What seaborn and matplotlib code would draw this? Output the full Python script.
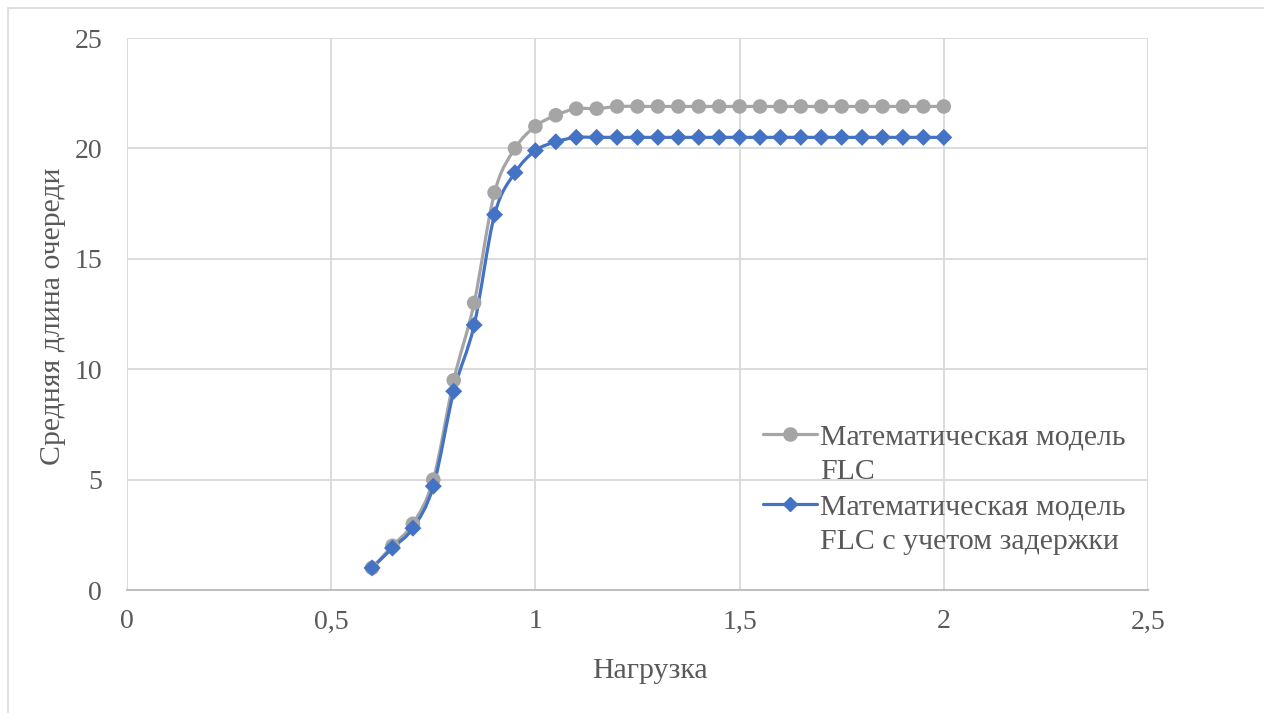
import numpy as np
import matplotlib
matplotlib.use("Agg")
import matplotlib.pyplot as plt
from matplotlib.path import Path
from matplotlib.patches import PathPatch, Rectangle
from matplotlib.lines import Line2D
from matplotlib.ticker import FuncFormatter
import seaborn as sns

# load values
load = [0.6, 0.65, 0.7, 0.75, 0.8, 0.85, 0.9, 0.95, 1.0, 1.05, 1.1, 1.15, 1.2, 1.25,
        1.3, 1.35, 1.4, 1.45, 1.5, 1.55, 1.6, 1.65, 1.7, 1.75, 1.8, 1.85, 1.9, 1.95, 2.0]
flc = [1.0, 2.0, 3.0, 5.0, 9.5, 13.0, 18.0, 20.0, 21.0, 21.5, 21.8, 21.8, 21.9, 21.9,
       21.9, 21.9, 21.9, 21.9, 21.9, 21.9, 21.9, 21.9, 21.9, 21.9, 21.9, 21.9, 21.9, 21.9, 21.9]
flc_delay = [1.0, 1.9, 2.8, 4.7, 9.0, 12.0, 17.0, 18.9, 19.9, 20.3, 20.5, 20.5, 20.5, 20.5,
             20.5, 20.5, 20.5, 20.5, 20.5, 20.5, 20.5, 20.5, 20.5, 20.5, 20.5, 20.5, 20.5, 20.5, 20.5]

legend_rows = ["Математическая модель", "FLC",
               "Математическая модель", "FLC с учетом задержки"]

GRAY = "#A5A5A5"
BLUE = "#4472C4"
TEXT = "#595959"
GRID = "#D9D9D9"

sns.set_style("white")
plt.rcParams["font.family"] = ["Liberation Serif", "DejaVu Serif"]


def smooth_path(xs, ys):
    # excel-like smoothed line: cubic bezier segments through the data points
    pts = np.column_stack([xs, ys])
    n = len(pts)
    verts = [pts[0]]
    codes = [Path.MOVETO]
    for i in range(n - 1):
        p0 = pts[i - 1] if i > 0 else pts[i]
        p1 = pts[i]
        p2 = pts[i + 1]
        p3 = pts[i + 2] if i + 2 < n else pts[i + 1]
        c1 = p1 + (p2 - p0) / 6.0
        c2 = p2 - (p3 - p1) / 6.0
        verts += [c1, c2, p2]
        codes += [Path.CURVE4] * 3
    return Path(verts, codes)


fig = plt.figure(figsize=(12.64, 7.13), dpi=100)
ax = fig.add_axes([0.1005, 0.1725, 0.8077, 0.7742])

for ys, col in [(flc, GRAY), (flc_delay, BLUE)]:
    ax.add_patch(PathPatch(smooth_path(load, ys), facecolor="none", edgecolor=col,
                           lw=2.3, capstyle="round", zorder=3))

sns.scatterplot(x=load, y=flc, ax=ax, color=GRAY, marker="o", s=110,
                edgecolor="none", zorder=4)
sns.scatterplot(x=load, y=flc_delay, ax=ax, color=BLUE, marker="D", s=75,
                edgecolor="none", zorder=5)

ax.set_xlim(0, 2.5)
ax.set_ylim(0, 25)
ax.set_xticks(np.arange(0, 2.51, 0.5))
ax.set_yticks(np.arange(0, 26, 5))
ax.xaxis.set_major_formatter(FuncFormatter(lambda v, p: f"{v:g}".replace(".", ",")))
ax.grid(True, color=GRID, lw=1.3)
ax.set_axisbelow(True)
for s in ["top", "right", "left"]:
    ax.spines[s].set_visible(False)
ax.spines["bottom"].set_color("#BFBFBF")
ax.spines["bottom"].set_linewidth(1.5)
ax.tick_params(axis="both", length=0, labelsize=20, colors=TEXT)
ax.tick_params(axis="x", pad=14)
ax.tick_params(axis="y", pad=18)

ax.set_xlabel("Нагрузка", fontsize=21.5, color=TEXT)
ax.set_ylabel("Средняя длина очереди", fontsize=21.5, color=TEXT)
ax.xaxis.set_label_coords(0.512, -0.147)
ax.xaxis.label.set_va("center")
ax.yaxis.set_label_coords(-0.0725, 0.496)
ax.yaxis.label.set_va("center")

blank = Line2D([], [], color="none", lw=0)
handles = [
    Line2D([], [], color=GRAY, lw=2.3, marker="o", markersize=9.5),
    blank,
    Line2D([], [], color=BLUE, lw=2.3, marker="D", markersize=7),
    blank,
]
ax.legend(handles, legend_rows, loc="upper left", bbox_to_anchor=(0.623, 0.302),
          frameon=False, fontsize=21.5, labelcolor=TEXT, handlelength=1.8,
          handletextpad=0.12, labelspacing=0.27, borderpad=0, borderaxespad=0)

# outer chart border
fig.patches.append(Rectangle((8 / 1264, -0.1), 1.2, (713 - 8) / 713 + 0.1,
                             transform=fig.transFigure, fill=False,
                             edgecolor="#D9D9D9", lw=1.2))

fig.savefig("out.png", dpi=100, facecolor="white")
